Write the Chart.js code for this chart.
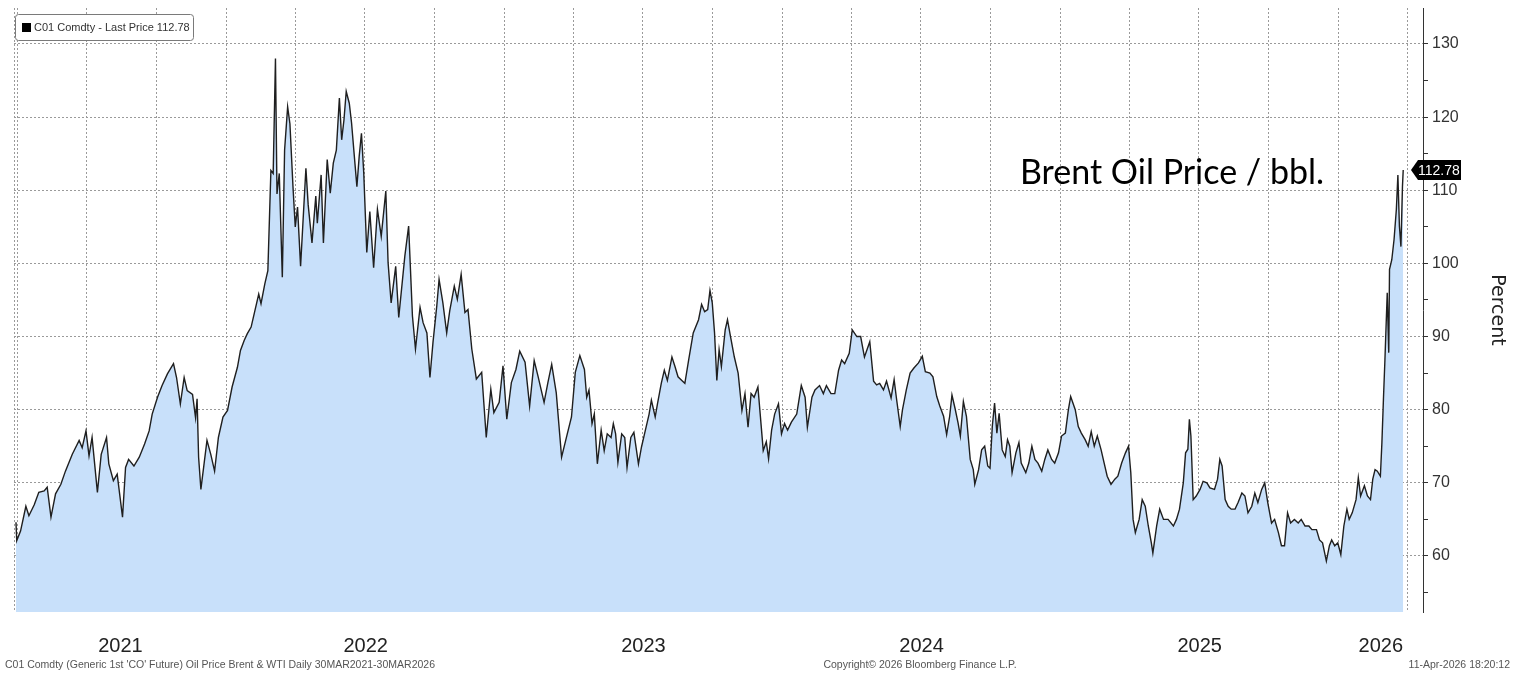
<!DOCTYPE html>
<html><head><meta charset="utf-8">
<script src="https://cdn.jsdelivr.net/npm/chart.js@4.4.1/dist/chart.umd.min.js"></script>
<style>html,body{margin:0;padding:0;background:#fff;overflow:hidden}#wrap{width:1515px;height:673px;position:relative}</style>
</head><body><div id="wrap"><canvas id="c" width="1515" height="673"></canvas></div>
<script>
// ---- data ----
const startDate = '2021-03-30';            // day 0 of the series
const seriesLabel = 'C01 Comdty - Last Price';
const lastPrice = 112.78;
// days since 30-Mar-2021
const dayOffsets = [0,1,6,13,17,24,30,37,41,46,52,59,65,74,83,87,92,96,100,107,112,119,122,128,133,140,144,148,155,162,169,175,179,186,192,199,207,211,216,221,225,232,236,238,240,243,251,256,261,266,272,278,284,291,295,300,304,309,313,319,322,327,331,335,338,341,343,346,350,353,357,360,364,367,370,374,381,384,389,394,396,401,404,409,413,417,421,425,428,431,434,438,441,445,448,451,454,457,461,465,470,475,480,486,489,493,499,503,511,516,521,525,531,535,540,544,548,553,556,561,566,570,576,580,585,590,594,599,605,612,618,624,628,635,640,645,651,657,662,669,675,681,686,694,699,704,710,717,724,730,735,741,747,750,753,757,760,764,769,773,777,782,785,788,791,796,800,803,808,812,818,822,826,832,835,840,843,848,852,856,862,866,870,875,879,884,890,897,901,905,909,912,915,918,921,924,927,932,935,939,944,949,954,958,962,966,970,975,978,982,986,989,993,997,1002,1006,1010,1014,1019,1026,1032,1037,1040,1046,1050,1056,1061,1065,1071,1076,1081,1085,1089,1095,1099,1105,1110,1115,1122,1127,1131,1135,1140,1144,1150,1154,1157,1162,1165,1170,1175,1180,1186,1191,1195,1201,1205,1210,1214,1219,1223,1227,1230,1234,1238,1241,1245,1249,1254,1258,1260,1265,1269,1273,1277,1280,1283,1286,1289,1292,1296,1300,1303,1306,1309,1314,1318,1321,1327,1331,1335,1339,1343,1348,1352,1356,1361,1365,1370,1374,1379,1383,1386,1392,1396,1400,1405,1409,1413,1417,1421,1426,1430,1434,1439,1444,1448,1453,1458,1462,1465,1468,1471,1476,1480,1484,1488,1492,1494,1499,1503,1508,1514,1521,1525,1529,1534,1537,1540,1542,1544,1547,1551,1556,1560,1565,1569,1575,1579,1582,1585,1589,1593,1597,1602,1606,1611,1615,1619,1624,1628,1632,1637,1641,1645,1650,1654,1659,1663,1667,1671,1675,1680,1685,1689,1694,1699,1703,1709,1713,1717,1722,1726,1729,1733,1737,1741,1745,1749,1752,1756,1761,1764,1767,1772,1776,1780,1783,1786,1789,1793,1795,1797,1799,1802,1804,1805,1808,1811,1814,1816,1818,1820,1822,1823];
const brentPrices = [64.6,62.1,63.4,66.8,65.5,67.0,68.7,68.9,69.4,65.3,68.5,69.8,71.6,73.9,75.8,74.8,77.1,73.7,76.2,68.7,73.9,76.2,72.6,70.3,71.2,65.3,72.1,73.2,72.3,73.5,75.3,77.1,79.4,81.7,83.3,84.9,86.3,84.4,80.8,84.4,82.6,82.1,78.9,81.5,73.5,69.1,75.8,73.9,71.6,76.2,79.0,79.9,83.1,85.8,88.1,89.5,90.4,91.3,93.1,95.8,94.5,97.2,99.0,112.7,112.3,128.0,109.5,112.3,98.1,115.5,121.4,119.1,110.5,105.0,107.7,99.6,113.0,108.0,102.8,109.2,105.5,112.1,102.8,114.2,109.6,113.7,115.5,122.6,116.9,119.6,123.5,121.9,119.2,114.2,110.5,114.6,117.8,112.4,101.5,107.1,99.4,107.4,103.7,109.9,100.1,94.6,99.6,92.6,101.0,105.1,92.8,88.3,94.0,91.9,90.5,84.4,89.2,94.2,97.8,94.6,90.5,93.5,96.9,95.1,98.5,93.3,93.7,88.3,84.2,85.1,76.2,82.8,79.6,81.0,86.0,78.7,83.7,85.5,88.0,86.5,80.5,86.7,84.6,81.0,83.7,86.2,82.3,73.5,76.5,79.0,85.1,87.4,85.5,81.7,82.7,78.1,79.4,72.6,77.2,74.4,76.7,76.2,78.1,76.7,72.8,76.7,76.2,72.1,76.2,76.9,72.6,74.9,76.7,79.4,81.3,79.0,80.8,83.6,85.4,84.0,87.2,85.9,84.5,84.0,83.6,86.8,90.5,92.3,94.4,93.4,93.7,96.3,94.6,90.5,84.0,88.2,85.9,90.9,92.3,90.0,87.2,85.0,79.9,82.2,77.6,82.2,81.7,83.1,79.4,74.4,75.6,73.3,77.2,79.4,80.8,76.7,78.1,77.2,78.3,79.4,83.3,81.7,77.6,81.7,82.7,83.3,82.2,83.3,82.2,82.2,85.4,86.8,86.3,87.7,90.9,90.0,90.0,87.2,89.3,83.9,83.4,83.6,82.7,83.9,81.6,84.1,81.6,77.7,80.0,82.7,85.0,85.7,86.4,87.3,85.2,85.0,84.5,81.8,80.5,79.1,76.6,79.1,82.0,80.2,78.2,76.4,81.1,79.1,73.2,71.8,69.8,71.8,74.5,75.0,72.3,72.0,77.7,80.9,76.8,79.5,74.5,73.6,75.9,75.0,71.4,74.1,75.5,72.7,71.4,72.7,75.0,73.2,72.7,71.6,73.2,74.5,73.2,72.7,74.1,76.4,76.8,80.0,81.8,80.0,77.7,76.8,75.9,75.0,77.0,75.0,76.4,74.5,72.7,70.9,69.8,70.5,70.9,72.7,74.1,75.0,71.4,65.0,63.2,65.0,67.7,66.8,64.1,61.8,60.4,64.1,66.4,65.0,65.0,64.1,65.0,66.4,70.0,74.1,74.6,78.7,76.4,67.7,68.2,69.1,70.2,70.0,69.3,69.1,70.5,73.2,72.3,67.7,66.8,66.4,66.4,67.3,68.6,68.2,65.9,66.8,68.6,67.3,69.1,70.0,67.3,64.5,65.0,63.2,61.4,61.4,65.9,64.5,65.0,64.5,65.0,64.1,64.1,63.6,63.6,62.2,61.8,59.3,61.4,62.2,61.4,61.8,60.2,64.1,66.4,65.0,65.9,67.7,70.7,68.2,69.6,68.2,67.7,70.5,71.8,71.6,70.9,75.5,81.4,86.9,96.0,87.8,99.2,100.5,103.3,107.4,112.1,105.1,102.3,110.5,112.78];
const yTickValues = [60,70,80,90,100,110,120,130];
const yMinorValues = [55,65,75,85,95,105,115,125];
const quarterStarts = ['2021-04-01','2021-07-01','2021-10-01','2022-01-01','2022-04-01','2022-07-01','2022-10-01','2023-01-01','2023-04-01','2023-07-01','2023-10-01','2024-01-01','2024-04-01','2024-07-01','2024-10-01','2025-01-01','2025-04-01','2025-07-01','2025-10-01','2026-01-01','2026-04-01'];
const yearLabels = ['2021','2022','2023','2024','2025','2026'];
const yearStarts = ['2022-01-01','2023-01-01','2024-01-01','2025-01-01','2026-01-01'];
const footerLeft = "C01 Comdty (Generic 1st 'CO' Future) Oil Price Brent & WTI Daily 30MAR2021-30MAR2026";
const footerCenter = 'Copyright\u00A9 2026 Bloomberg Finance L.P.';
const footerRight = '11-Apr-2026 18:20:12';
const annotationText = 'Brent Oil Price / bbl.';
const axisTitle = 'Percent';

// ---- helpers ----
const DAY = 86400000;
const t0 = Date.parse(startDate + 'T00:00:00Z');
const toDay = s => (Date.parse(s + 'T00:00:00Z') - t0) / DAY;
const X_MIN = -2.6, X_MAX = 1849;
const Y_MIN = 52.34, Y_MAX = 134.92;

const quarterDays = quarterStarts.map(toDay);
const bounds = [X_MIN, ...yearStarts.map(toDay), X_MAX];
const labelMap = new Map();
yearLabels.forEach((lab, i) => labelMap.set((bounds[i] + bounds[i + 1]) / 2, lab));
const xTickVals = [X_MIN, ...quarterDays, ...labelMap.keys()].sort((a, b) => a - b);

const points = dayOffsets.map((d, i) => ({ x: d, y: brentPrices[i] }));

const FONT = "'Liberation Sans', Arial, sans-serif";
const GRID = '#9a9a9a';
const CLEAR = 'rgba(0,0,0,0)';
const noPad = s => { s.paddingLeft = 0; s.paddingRight = 0; s.paddingTop = 0; s.paddingBottom = 0; };

const extras = {
  id: 'extras',
  afterDraw(chart) {
    const ctx = chart.ctx;
    const ys = chart.scales.y;
    ctx.save();
    // legend box
    ctx.fillStyle = '#fff';
    ctx.strokeStyle = '#7a7a7a';
    ctx.lineWidth = 1;
    ctx.beginPath();
    ctx.roundRect(15.5, 14.5, 178, 26, 3);
    ctx.fill(); ctx.stroke();
    ctx.fillStyle = '#000';
    ctx.fillRect(22, 23, 9, 9);
    ctx.fillStyle = '#333';
    ctx.font = '11px ' + FONT;
    ctx.textBaseline = 'middle';
    ctx.textAlign = 'left';
    ctx.fillText(seriesLabel + ' ' + lastPrice.toFixed(2), 34, 28);

    // annotation
    ctx.fillStyle = '#000';
    ctx.font = "34px Lato, 'Open Sans', sans-serif";
    ctx.textBaseline = 'alphabetic';
    ctx.fillText(annotationText, 1020, 184);

    // footers
    ctx.fillStyle = '#555';
    ctx.font = '10.5px ' + FONT;
    ctx.textBaseline = 'middle';
    ctx.textAlign = 'left';
    ctx.fillText(footerLeft, 5, 665);
    ctx.textAlign = 'center';
    ctx.fillText(footerCenter, 920, 665);
    ctx.textAlign = 'right';
    ctx.fillText(footerRight, 1510, 665);

    // last price tag
    const py = Math.round(ys.getPixelForValue(lastPrice));
    ctx.fillStyle = '#000';
    ctx.beginPath();
    ctx.moveTo(1411, py);
    ctx.lineTo(1418, py - 10);
    ctx.lineTo(1461, py - 10);
    ctx.lineTo(1461, py + 10);
    ctx.lineTo(1418, py + 10);
    ctx.closePath();
    ctx.fill();
    ctx.fillStyle = '#fff';
    ctx.font = '14px ' + FONT;
    ctx.textAlign = 'left';
    ctx.fillText(lastPrice.toFixed(2), 1418, py + 1);
    ctx.restore();
  }
};

new Chart(document.getElementById('c'), {
  type: 'line',
  data: {
    datasets: [{
      label: seriesLabel,
      data: points,
      borderColor: '#1f1f1f',
      borderWidth: 1.4,
      backgroundColor: '#c8e0fa',
      fill: 'start',
      pointRadius: 0,
      tension: 0
    }]
  },
  options: {
    responsive: false,
    animation: false,
    devicePixelRatio: 1,
    layout: { padding: { left: 14, top: 8, right: 0, bottom: 0 } },
    plugins: { legend: { display: false }, tooltip: { enabled: false } },
    scales: {
      x: {
        type: 'linear',
        min: X_MIN, max: X_MAX,
        z: 1,
        afterBuildTicks: s => { s.ticks = xTickVals.map(v => ({ value: v })); },
        afterFit: s => { s.height = 61; noPad(s); },
        border: { display: false, dash: [2, 2] },
        grid: {
          drawTicks: false,
          color: c => (c.tick && labelMap.has(c.tick.value)) ? CLEAR : GRID,
          lineWidth: 1
        },
        ticks: {
          autoSkip: false, maxRotation: 0, padding: 22,
          color: '#222',
          font: { family: FONT, size: 20 },
          callback: v => labelMap.get(v) || ''
        }
      },
      y: {
        type: 'linear',
        position: 'right',
        min: Y_MIN, max: Y_MAX,
        z: 1,
        afterBuildTicks: s => { s.ticks = [...yTickValues, ...yMinorValues].sort((a, b) => a - b).map(v => ({ value: v })); },
        afterFit: s => { s.width = 92; noPad(s); },
        border: { display: true, color: '#333', width: 1, dash: [2, 2] },
        grid: {
          color: c => (c.tick && yTickValues.includes(c.tick.value)) ? GRID : CLEAR,
          tickColor: '#333', tickLength: 5, tickWidth: 1
        },
        ticks: {
          padding: 4, color: '#333',
          font: { family: FONT, size: 16 },
          callback: v => yTickValues.includes(v) ? String(v) : ''
        },
        title: {
          display: true, text: axisTitle, color: '#222',
          font: { family: "'DejaVu Sans', sans-serif", size: 19, lineHeight: 1.9 },
          padding: 0
        }
      }
    }
  },
  plugins: [extras]
});
</script></body></html>
